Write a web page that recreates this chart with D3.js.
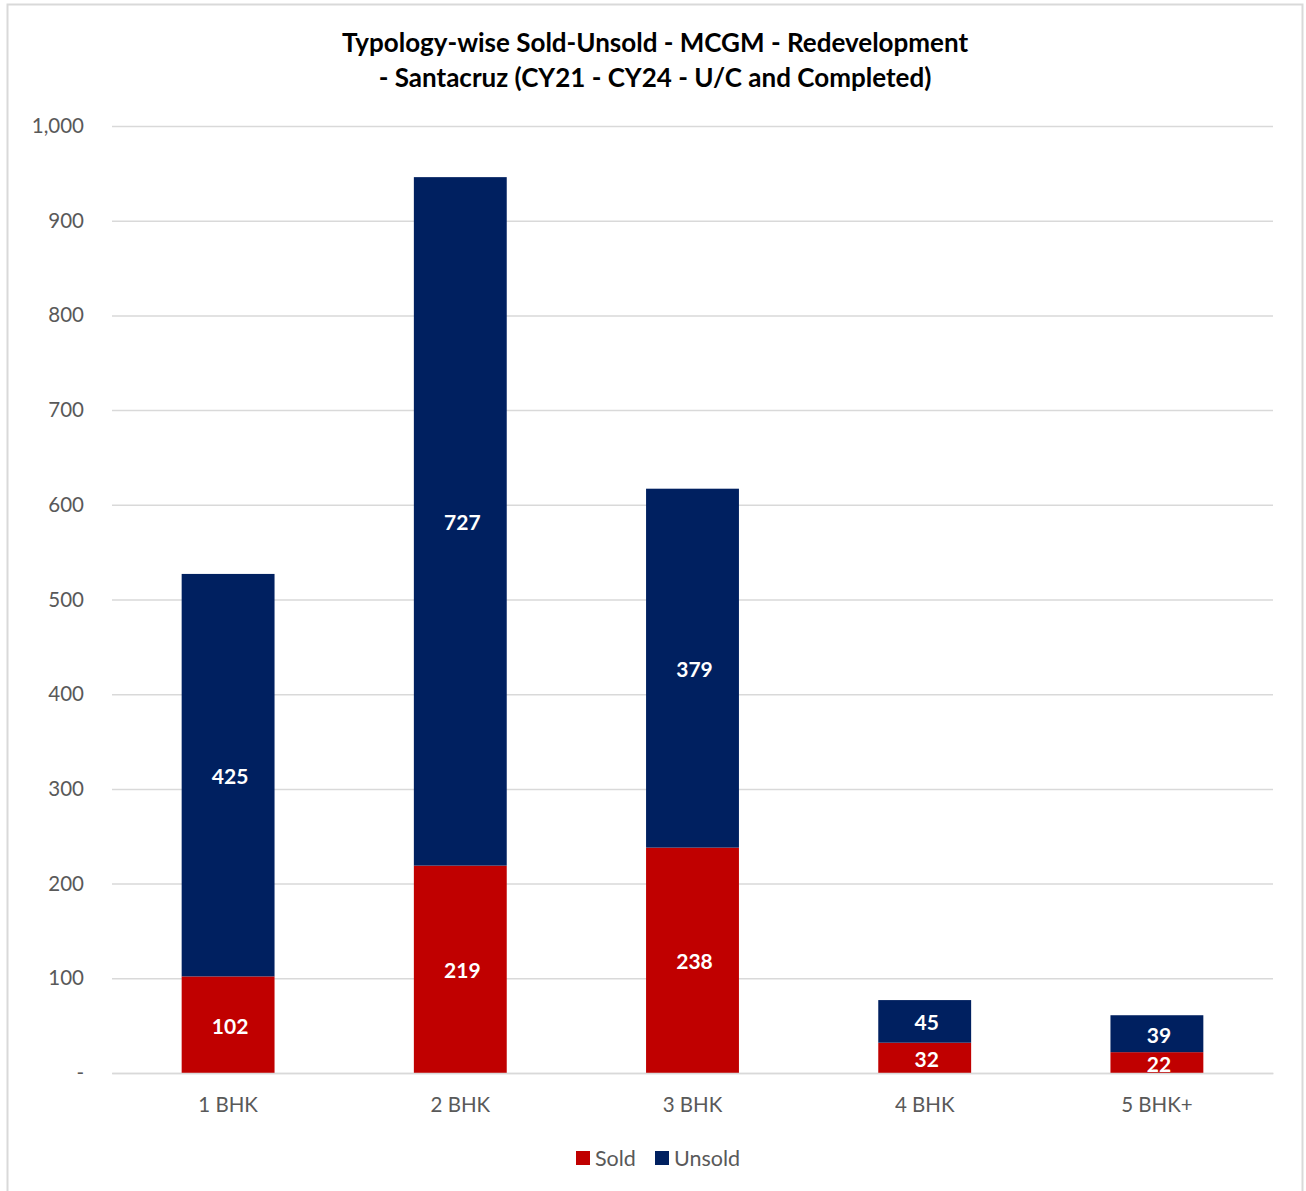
<!DOCTYPE html>
<html><head><meta charset="utf-8">
<script src="https://cdn.jsdelivr.net/npm/d3@7"></script>
<style>html,body{margin:0;padding:0;background:#fff;}</style>
</head><body>
<svg id="chart" width="1306" height="1191"></svg>
<script>
const categories = ["1 BHK","2 BHK","3 BHK","4 BHK","5 BHK+"];
const sold = [102,219,238,32,22];
const unsold = [425,727,379,45,39];
const seriesNames = ["Sold","Unsold"];
const seriesColors = ["#C00000","#002060"];
const yTicks = [0,100,200,300,400,500,600,700,800,900,1000];
const titleLines = ["Typology-wise Sold-Unsold - MCGM - Redevelopment","- Santacruz (CY21 - CY24 - U/C and Completed)"];

const font = "Lato, 'Open Sans', sans-serif";
const svg = d3.select("#chart");
svg.append("rect").attr("x",7.5).attr("y",4.5).attr("width",1295).attr("height",1195)
  .attr("fill","#fff").attr("stroke","#d9d9d9").attr("stroke-width",2);

const m = {left:112, right:1273, top:126, bottom:1073};
const x = d3.scaleBand().domain(categories).range([m.left,m.right]).paddingInner(0.6).paddingOuter(0.3);
const y = d3.scaleLinear().domain([0,1000]).range([m.bottom,m.top]);

svg.selectAll("text.title").data(titleLines).enter().append("text")
  .attr("x",655).attr("y",(d,i)=>52+i*35).attr("text-anchor","middle")
  .attr("font-family",font).attr("font-weight","bold").attr("font-size",26).attr("fill","#000").text(d=>d);

const yAxis = d3.axisLeft(y).tickValues(yTicks).tickSize(-(m.right-m.left))
  .tickFormat(d=> d===0 ? "-" : d3.format(",")(d));
const ga = svg.append("g").attr("transform",`translate(${m.left},0)`).call(yAxis);
ga.select(".domain").remove();
ga.selectAll(".tick line").attr("stroke","#d9d9d9").attr("stroke-width",1.5);
ga.selectAll(".tick text").attr("x",-28).attr("font-family",font).attr("font-size",20.5).attr("fill","#595959");

const stack = d3.stack().keys([0,1]).value((d,k)=>d[k]);
const rows = categories.map((c,i)=>[sold[i],unsold[i]]);
const layers = stack(rows);
layers.forEach((layer,k)=>{
  const g = svg.append("g");
  g.selectAll("rect").data(layer).enter().append("rect")
    .attr("x",(d,i)=>x(categories[i])).attr("width",x.bandwidth())
    .attr("y",d=>y(d[1])).attr("height",d=>y(d[0])-y(d[1]))
    .attr("fill",seriesColors[k]);
  g.selectAll("text").data(layer).enter().append("text")
    .attr("x",(d,i)=>x(categories[i])+x.bandwidth()/2+2)
    .attr("y",d=>(y(d[0])+y(d[1]))/2+9)
    .attr("text-anchor","middle").attr("font-family",font).attr("font-weight","bold")
    .attr("font-size",21).attr("fill","#fff").text(d=>d[1]-d[0]);
});

const gx = svg.append("g").attr("transform",`translate(0,${m.bottom})`)
  .call(d3.axisBottom(x).tickSize(0).tickPadding(24));
gx.select(".domain").attr("stroke","#d9d9d9").attr("stroke-width",1.5);
gx.selectAll(".tick text").attr("font-family",font).attr("font-size",20.5).attr("fill","#595959");

const legX = [576,655];
seriesNames.forEach((n,k)=>{
  svg.append("rect").attr("x",legX[k]).attr("y",1151).attr("width",14).attr("height",14).attr("fill",seriesColors[k]);
  svg.append("text").attr("x",legX[k]+19).attr("y",1166).attr("font-family",font).attr("font-size",21.5)
    .attr("fill","#595959").text(n);
});
</script>
</body></html>
